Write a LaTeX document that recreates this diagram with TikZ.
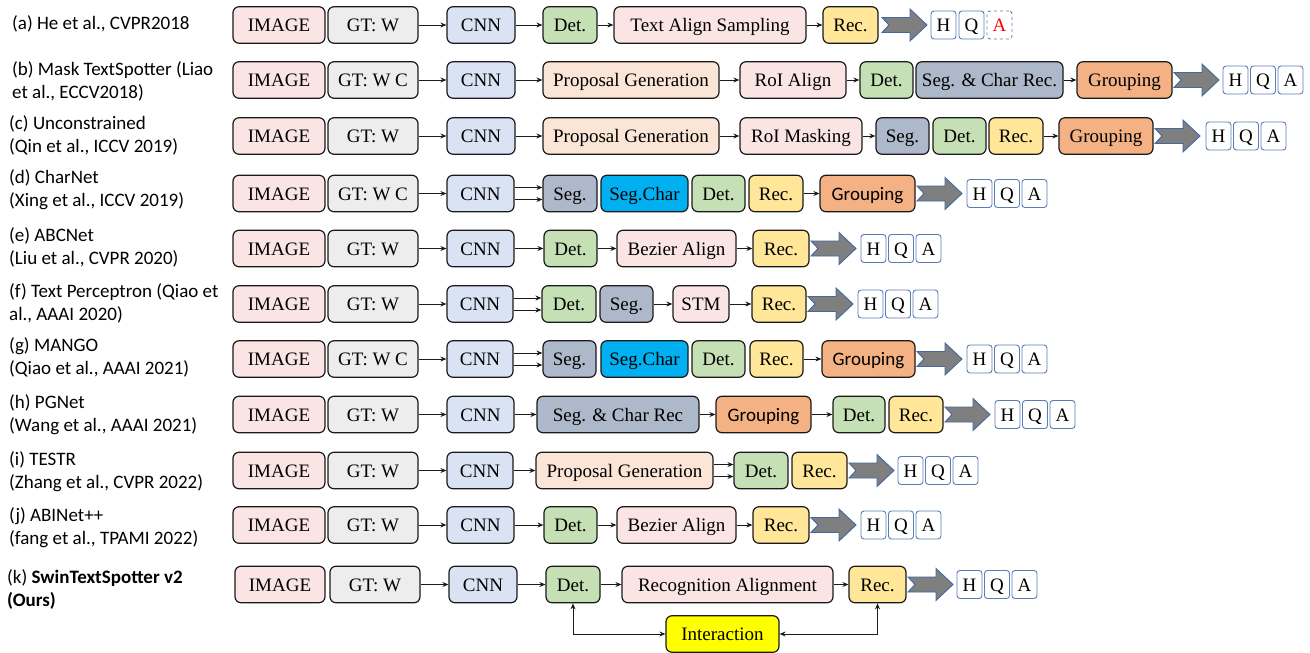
\documentclass[tikz,border=0pt]{standalone}
\usepackage{fontspec}
\setmainfont{Liberation Serif}
\newfontfamily\labfont{Carlito}
\usetikzlibrary{arrows.meta}
\definecolor{cpink}{HTML}{FBE4E4}
\definecolor{cgt}{HTML}{EDEDED}
\definecolor{ccnn}{HTML}{DAE3F3}
\definecolor{cdet}{HTML}{C5E0B4}
\definecolor{crec}{HTML}{FFE699}
\definecolor{cprop}{HTML}{FBE5D6}
\definecolor{cseg}{HTML}{ADB9CA}
\definecolor{cgrp}{HTML}{F4B183}
\definecolor{csegc}{HTML}{00B0F0}
\definecolor{cyel}{HTML}{FFFF00}
\definecolor{cfill}{HTML}{7F7F7F}
\definecolor{cfatb}{HTML}{41699F}
\definecolor{chq}{HTML}{5A7DB5}
\definecolor{cline}{HTML}{1A1A1A}
\tikzset{
  box/.style={draw=cline, line width=1.2pt, rounded corners=6pt, minimum height=36.5pt,
    inner sep=0pt, text height=13pt, text depth=0pt, font=\fontsize{19}{22}\selectfont, text=black},
  img/.style={box, fill=cpink},
  pinkbox/.style={box, fill=cpink},
  gt/.style={box, fill=cgt},
  cnn/.style={box, fill=ccnn},
  det/.style={box, fill=cdet},
  rec/.style={box, fill=crec},
  prop/.style={box, fill=cprop},
  seg/.style={box, fill=cseg},
  grp/.style={box, fill=cgrp},
  grps/.style={box, fill=cgrp, font=\labfont\fontsize{19}{22}\selectfont},
  segc/.style={box, fill=csegc},
  inter/.style={box, fill=cyel},
  ln/.style={-{Stealth[length=6pt,width=5pt]}, line width=1pt, draw=cline},
  lnb/.style={{Stealth[length=6pt,width=5pt]}-{Stealth[length=6pt,width=5pt]}, line width=1pt, draw=cline},
  hq/.style={draw=chq, line width=0.9pt, rounded corners=3pt, fill=white, minimum width=25pt,
    minimum height=28pt, inner sep=0pt, text height=13pt, text depth=0pt, font=\fontsize{19}{22}\selectfont},
  fat/.style={fill=cfill, draw=cfatb, line width=0.9pt},
  lab/.style={anchor=west, align=left, inner sep=0pt, font=\labfont\fontsize{19}{23}\selectfont},
}
\newcommand\mybox[6]{\pgfmathsetmacro\bw{#4-#3}\pgfmathsetmacro\bc{(#3+#4)/2}%
  \node[#2, minimum width=\bw pt] (#1) at (\bc,#5) {#6};}
\newcommand\myhqa[3]{\pgfmathsetmacro\hx{#2+12.5}\pgfmathsetmacro\qx{#2+40}\pgfmathsetmacro\ax{#2+67.5}%
  \node[hq] (#1h) at (\hx,#3) {H}; \node[hq] (#1q) at (\qx,#3) {Q}; \node[hq] (#1a) at (\ax,#3) {A};}
\newcommand\myfat[2]{\path[fat] (#1,#2) ++(0,-7.5) -- ++(28,0) -- ++(0,-8.5) -- ++(17,16)
  -- ++(-17,16) -- ++(0,-8.5) -- ++(-28,0) -- ++(7,-7.5) -- cycle;}
\newcommand\dbl[2]{\draw[ln] ([yshift=6pt]#1.east) -- ([yshift=6pt]#2.west);
  \draw[ln] ([yshift=-6pt]#1.east) -- ([yshift=-6pt]#2.west);}
\begin{document}
\begin{tikzpicture}[x=1pt,y=-1pt]
\useasboundingbox (0,0) rectangle (1310,653);
% labels
\node[lab] (la) at (12,24) {(a) He et al., CVPR2018};
\node[lab] (lb) at (12,81) {(b) Mask TextSpotter (Liao\\et al., ECCV2018)};
\node[lab] (lc) at (9,135) {(c) Unconstrained\\(Qin et al., ICCV 2019)};
\node[lab] (ld) at (9,190) {(d) CharNet\\(Xing et al., ICCV 2019)};
\node[lab] (le) at (9,247) {(e) ABCNet\\(Liu et al., CVPR 2020)};
\node[lab] (lf) at (9,303) {(f) Text Perceptron (Qiao et\\al., AAAI 2020)};
\node[lab] (lg) at (9,357) {(g) MANGO\\(Qiao et al., AAAI 2021)};
\node[lab] (lh) at (9,415) {(h) PGNet\\(Wang et al., AAAI 2021)};
\node[lab] (li) at (9,472) {(i) TESTR\\(Zhang et al., CVPR 2022)};
\node[lab] (lj) at (9,527.5) {(j) ABINet++\\(fang et al., TPAMI 2022)};
\node[lab] (lk) at (7,589) {(k) \textbf{SwinTextSpotter v2}\\\textbf{(Ours)}};
% row a
\mybox{a0}{img}{233}{325}{25}{IMAGE}
\mybox{a1}{gt}{328}{418}{25}{GT: W}
\mybox{a2}{cnn}{447}{515}{25}{CNN}
\mybox{a3}{det}{543}{597}{25}{Det.}
\mybox{a4}{pinkbox}{614}{806}{25}{Text Align Sampling}
\mybox{a5}{rec}{823}{878}{25}{Rec.}
\myfat{882}{25}
\node[hq] (ah) at (943.5,25) {H};
\node[hq] (aq) at (971.5,25) {Q};
\node[hq, dashed, text=red] (aa) at (999.5,25) {A};
\draw[ln] (a1) -- (a2); \draw[ln] (a2) -- (a3); \draw[ln] (a3) -- (a4); \draw[ln] (a4) -- (a5);
% row b
\mybox{b0}{img}{233}{325}{80}{IMAGE}
\mybox{b1}{gt}{328}{418}{80}{GT: W C}
\mybox{b2}{cnn}{447}{515}{80}{CNN}
\mybox{b3}{prop}{543}{719}{80}{Proposal Generation}
\mybox{b4}{pinkbox}{740}{846}{80}{RoI Align}
\mybox{b5}{det}{860}{913}{80}{Det.}
\mybox{b6}{seg}{916}{1063}{80}{Seg. \& Char Rec.}
\mybox{b7}{grp}{1077}{1172}{80}{Grouping}
\myfat{1174}{80}
\myhqa{b}{1223}{80}
\draw[ln] (b1) -- (b2); \draw[ln] (b2) -- (b3); \draw[ln] (b3) -- (b4); \draw[ln] (b4) -- (b5); \draw[ln] (b6) -- (b7);
% row c
\mybox{c0}{img}{233}{325}{136}{IMAGE}
\mybox{c1}{gt}{328}{418}{136}{GT: W}
\mybox{c2}{cnn}{447}{515}{136}{CNN}
\mybox{c3}{prop}{543}{719}{136}{Proposal Generation}
\mybox{c4}{pinkbox}{740}{862}{136}{RoI Masking}
\mybox{c5}{seg}{876}{929}{136}{Seg.}
\mybox{c6}{det}{933}{986}{136}{Det.}
\mybox{c7}{rec}{989}{1043}{136}{Rec.}
\mybox{c8}{grp}{1059}{1153}{136}{Grouping}
\myfat{1155}{136}
\myhqa{c}{1206}{136}
\draw[ln] (c1) -- (c2); \draw[ln] (c2) -- (c3); \draw[ln] (c3) -- (c4); \draw[ln] (c4) -- (c5); \draw[ln] (c7) -- (c8);
% row d
\mybox{d0}{img}{233}{325}{193.5}{IMAGE}
\mybox{d1}{gt}{328}{418}{193.5}{GT: W C}
\mybox{d2}{cnn}{447}{514}{193.5}{CNN}
\mybox{d3}{seg}{543}{597}{193.5}{Seg.}
\mybox{d4}{segc}{601}{688}{193.5}{Seg.Char}
\mybox{d5}{det}{692}{745}{193.5}{Det.}
\mybox{d6}{rec}{749}{803}{193.5}{Rec.}
\mybox{d7}{grps}{820}{915}{193.5}{Grouping}
\myfat{917}{193.5}
\myhqa{d}{967}{193.5}
\draw[ln] (d1) -- (d2); \dbl{d2}{d3} \draw[ln] (d6) -- (d7);
% row e
\mybox{e0}{img}{233}{325}{248.5}{IMAGE}
\mybox{e1}{gt}{328}{418}{248.5}{GT: W}
\mybox{e2}{cnn}{447}{514}{248.5}{CNN}
\mybox{e3}{det}{544}{597}{248.5}{Det.}
\mybox{e4}{pinkbox}{617}{736}{248.5}{Bezier Align}
\mybox{e5}{rec}{753}{809}{248.5}{Rec.}
\myfat{811}{248.5}
\myhqa{e}{861}{248.5}
\draw[ln] (e1) -- (e2); \draw[ln] (e2) -- (e3); \draw[ln] (e3) -- (e4); \draw[ln] (e4) -- (e5);
% row f
\mybox{f0}{img}{233}{325}{304}{IMAGE}
\mybox{f1}{gt}{328}{418}{304}{GT: W}
\mybox{f2}{cnn}{447}{513}{304}{CNN}
\mybox{f3}{det}{542}{596}{304}{Det.}
\mybox{f4}{seg}{600}{653}{304}{Seg.}
\mybox{f5}{pinkbox}{673}{729}{304}{STM}
\mybox{f6}{rec}{752}{806}{304}{Rec.}
\myfat{808}{304}
\myhqa{f}{858}{304}
\draw[ln] (f1) -- (f2); \dbl{f2}{f3} \draw[ln] (f4) -- (f5); \draw[ln] (f5) -- (f6);
% row g
\mybox{g0}{img}{233}{325}{359}{IMAGE}
\mybox{g1}{gt}{328}{418}{359}{GT: W C}
\mybox{g2}{cnn}{447}{513}{359}{CNN}
\mybox{g3}{seg}{543}{596}{359}{Seg.}
\mybox{g4}{segc}{601}{688}{359}{Seg.Char}
\mybox{g5}{det}{692}{745}{359}{Det.}
\mybox{g6}{rec}{750}{803}{359}{Rec.}
\mybox{g7}{grps}{822}{915}{359}{Grouping}
\myfat{917}{359}
\myhqa{g}{967}{359}
\draw[ln] (g1) -- (g2); \dbl{g2}{g3} \draw[ln] (g6) -- (g7);
% row h
\mybox{h0}{img}{233}{325}{414.5}{IMAGE}
\mybox{h1}{gt}{328}{418}{414.5}{GT: W}
\mybox{h2}{cnn}{447}{514}{414.5}{CNN}
\mybox{h3}{seg}{537}{699}{414.5}{Seg. \& Char Rec}
\mybox{h4}{grps}{716}{811}{414.5}{Grouping}
\mybox{h5}{det}{833}{885}{414.5}{Det.}
\mybox{h6}{rec}{889}{943}{414.5}{Rec.}
\myfat{945}{414.5}
\myhqa{h}{995}{414.5}
\draw[ln] (h1) -- (h2); \draw[ln] (h2) -- (h3); \draw[ln] (h3) -- (h4); \draw[ln] (h4) -- (h5);
% row i
\mybox{i0}{img}{233}{325}{470.5}{IMAGE}
\mybox{i1}{gt}{328}{418}{470.5}{GT: W}
\mybox{i2}{cnn}{447}{513}{470.5}{CNN}
\mybox{i3}{prop}{536}{713}{470.5}{Proposal Generation}
\mybox{i4}{det}{734}{788}{470.5}{Det.}
\mybox{i5}{rec}{792}{847}{470.5}{Rec.}
\myfat{849}{470.5}
\myhqa{i}{898}{470.5}
\draw[ln] (i1) -- (i2); \draw[ln] (i2) -- (i3); \dbl{i3}{i4}
% row j
\mybox{j0}{img}{233}{325}{525}{IMAGE}
\mybox{j1}{gt}{328}{418}{525}{GT: W}
\mybox{j2}{cnn}{447}{514}{525}{CNN}
\mybox{j3}{det}{544}{597}{525}{Det.}
\mybox{j4}{pinkbox}{617}{736}{525}{Bezier Align}
\mybox{j5}{rec}{753}{809}{525}{Rec.}
\myfat{811}{525}
\myhqa{j}{861}{525}
\draw[ln] (j1) -- (j2); \draw[ln] (j2) -- (j3); \draw[ln] (j3) -- (j4); \draw[ln] (j4) -- (j5);
% row k
\mybox{k0}{img}{235}{325}{584.5}{IMAGE}
\mybox{k1}{gt}{330}{420}{584.5}{GT: W}
\mybox{k2}{cnn}{449}{517}{584.5}{CNN}
\mybox{k3}{det}{546}{600}{584.5}{Det.}
\mybox{k4}{pinkbox}{622}{833}{584.5}{Recognition Alignment}
\mybox{k5}{rec}{849}{906}{584.5}{Rec.}
\mybox{k6}{inter}{666}{779}{634}{Interaction}
\myfat{908}{584.5}
\myhqa{k}{957}{584.5}
\draw[ln] (k1) -- (k2); \draw[ln] (k2) -- (k3); \draw[ln] (k3) -- (k4); \draw[ln] (k4) -- (k5);
\draw[lnb] (k3.south) |- (k6.west);
\draw[lnb] (k5.south) |- (k6.east);
\end{tikzpicture}
\end{document}
